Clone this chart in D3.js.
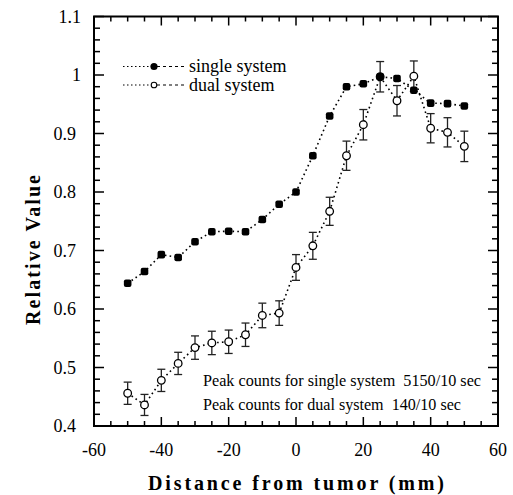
<!DOCTYPE html>
<html>
<head>
<meta charset="utf-8">
<script src="https://cdn.jsdelivr.net/npm/d3@7"></script>
<style>
  html, body { margin: 0; padding: 0; background: #fff; }
  svg { display: block; }
  svg text { font-family: "Liberation Serif", "Times New Roman", "DejaVu Serif", serif; }
</style>
</head>
<body>
<svg id="chart" width="513" height="495"></svg>
<script>
const distances = [-50, -45, -40, -35, -30, -25, -20, -15, -10, -5, 0, 5, 10, 15, 20, 25, 30, 35, 40, 45, 50];
const singleValues = [0.644, 0.664, 0.693, 0.688, 0.715, 0.732, 0.733, 0.732, 0.753, 0.779, 0.800, 0.862, 0.930, 0.980, 0.985, 0.997, 0.994, 0.974, 0.952, 0.951, 0.947];
const dualValues = [0.456, 0.436, 0.478, 0.507, 0.534, 0.542, 0.544, 0.556, 0.589, 0.593, 0.671, 0.708, 0.767, 0.862, 0.915, 0.997, 0.956, 0.998, 0.909, 0.902, 0.878];
const dualErrors = [0.019, 0.018, 0.019, 0.019, 0.020, 0.020, 0.020, 0.020, 0.021, 0.021, 0.022, 0.023, 0.024, 0.025, 0.026, 0.026, 0.026, 0.026, 0.025, 0.025, 0.026];
const xTicks = [-60, -40, -20, 0, 20, 40, 60];
const yTicks = [0.4, 0.5, 0.6, 0.7, 0.8, 0.9, 1.0, 1.1];
const yTickLabels = ["0.4", "0.5", "0.6", "0.7", "0.8", "0.9", "1", "1.1"];
const seriesNames = ["single system", "dual system"];
const notes = ["Peak counts for single system  5150/10 sec", "Peak counts for dual system  140/10 sec"];
const xTitle = "Distance from tumor (mm)";
const yTitle = "Relative Value";

const svg = d3.select("#chart");
const L = 94, R = 498, T = 16.5, B = 426;
const x = d3.scaleLinear().domain([-60, 60]).range([L, R]);
const y = d3.scaleLinear().domain([0.4, 1.1]).range([B, T]);

// frame
svg.append("rect").attr("x", L).attr("y", T).attr("width", R - L).attr("height", B - T)
  .attr("fill", "none").attr("stroke", "#000").attr("stroke-width", 2);

// inward ticks on all four sides
const xMinor = d3.range(-60, 60.01, 5);
const yMinor = d3.range(0.4, 1.1001, 0.02);
const tickG = svg.append("g").attr("stroke", "#000");
xMinor.forEach(v => {
  const major = Math.abs(v % 20) < 1e-6;
  const len = major ? 9 : 5;
  tickG.append("line").attr("x1", x(v)).attr("x2", x(v)).attr("y1", B).attr("y2", B - len).attr("stroke-width", 1.5);
  tickG.append("line").attr("x1", x(v)).attr("x2", x(v)).attr("y1", T).attr("y2", T + len).attr("stroke-width", 1.5);
});
yMinor.forEach(v => {
  const major = Math.abs(Math.round(v * 100) % 10) < 1e-6;
  const len = major ? 10 : 6;
  tickG.append("line").attr("y1", y(v)).attr("y2", y(v)).attr("x1", L).attr("x2", L + len).attr("stroke-width", 1.5);
  tickG.append("line").attr("y1", y(v)).attr("y2", y(v)).attr("x1", R).attr("x2", R - len).attr("stroke-width", 1.5);
});

// tick labels
svg.append("g").selectAll("text").data(xTicks).join("text")
  .attr("x", d => x(d)).attr("y", 456).attr("text-anchor", "middle")
  .attr("font-size", 18).text(d => d);
svg.append("g").selectAll("text").data(yTicks).join("text")
  .attr("x", (d, i) => yTickLabels[i].startsWith("1") ? 81 : 76)
  .attr("y", d => y(d) + 6).attr("text-anchor", "end")
  .attr("font-size", 18).text((d, i) => yTickLabels[i]);

// axis titles
svg.append("text").attr("x", 296).attr("y", 490).attr("text-anchor", "middle")
  .attr("font-weight", "bold").attr("font-size", 20)
  .attr("textLength", 296).attr("lengthAdjust", "spacing").text(xTitle);
svg.append("text").attr("transform", "translate(40,250) rotate(-90)").attr("text-anchor", "middle")
  .attr("font-weight", "bold").attr("font-size", 20)
  .attr("textLength", 150).attr("lengthAdjust", "spacing").text(yTitle);

// dotted connecting lines
const line = (vals) => d3.line().x((d, i) => x(distances[i])).y(d => y(d))(vals);
svg.append("path").attr("d", line(singleValues)).attr("fill", "none").attr("stroke", "#000")
  .attr("stroke-width", 1.6).attr("stroke-dasharray", "1.6,3.2");
svg.append("path").attr("d", line(dualValues)).attr("fill", "none").attr("stroke", "#000")
  .attr("stroke-width", 1.6).attr("stroke-dasharray", "1.6,3.2");

// error bars for dual system
const eb = svg.append("g").attr("stroke", "#222").attr("stroke-width", 1.3);
dualValues.forEach((v, i) => {
  const cx = x(distances[i]), e = dualErrors[i];
  eb.append("line").attr("x1", cx).attr("x2", cx).attr("y1", y(v + e)).attr("y2", y(v - e));
  eb.append("line").attr("x1", cx - 4).attr("x2", cx + 4).attr("y1", y(v + e)).attr("y2", y(v + e));
  eb.append("line").attr("x1", cx - 4).attr("x2", cx + 4).attr("y1", y(v - e)).attr("y2", y(v - e));
});

// markers
svg.append("g").selectAll("circle").data(dualValues).join("circle")
  .attr("cx", (d, i) => x(distances[i])).attr("cy", d => y(d)).attr("r", 3.8)
  .attr("fill", "#fff").attr("stroke", "#000").attr("stroke-width", 1.3);
svg.append("g").selectAll("rect").data(singleValues).join("rect")
  .attr("x", (d, i) => x(distances[i]) - 3.8).attr("y", d => y(d) - 3.8)
  .attr("width", 7.6).attr("height", 7.6).attr("rx", 2).attr("fill", "#000");

// legend
const legY = [66.5, 85];
seriesNames.forEach((name, i) => {
  const g = svg.append("g");
  g.append("line").attr("x1", 123).attr("x2", 152).attr("y1", legY[i]).attr("y2", legY[i])
    .attr("stroke", "#000").attr("stroke-width", 1.2).attr("stroke-dasharray", "1.5,2.5");
  g.append("line").attr("x1", 157).attr("x2", 184).attr("y1", legY[i]).attr("y2", legY[i])
    .attr("stroke", "#000").attr("stroke-width", 1.2).attr("stroke-dasharray", "3,3");
  if (i === 0) {
    g.append("circle").attr("cx", 154).attr("cy", legY[i]).attr("r", 3.6).attr("fill", "#000");
  } else {
    g.append("circle").attr("cx", 154).attr("cy", legY[i]).attr("r", 2.8)
      .attr("fill", "#fff").attr("stroke", "#000").attr("stroke-width", 1.1);
  }
  g.append("text").attr("x", 189).attr("y", legY[i] + 5.5)
    .attr("font-size", 18).text(name);
});

// notes
const noteY = [386, 410];
const noteLen = [278, 258];
notes.forEach((t, i) => {
  svg.append("text").attr("x", 203).attr("y", noteY[i])
    .attr("font-size", 16)
    .attr("textLength", noteLen[i]).attr("lengthAdjust", "spacingAndGlyphs")
    .style("white-space", "pre").text(t);
});
</script>
</body>
</html>
